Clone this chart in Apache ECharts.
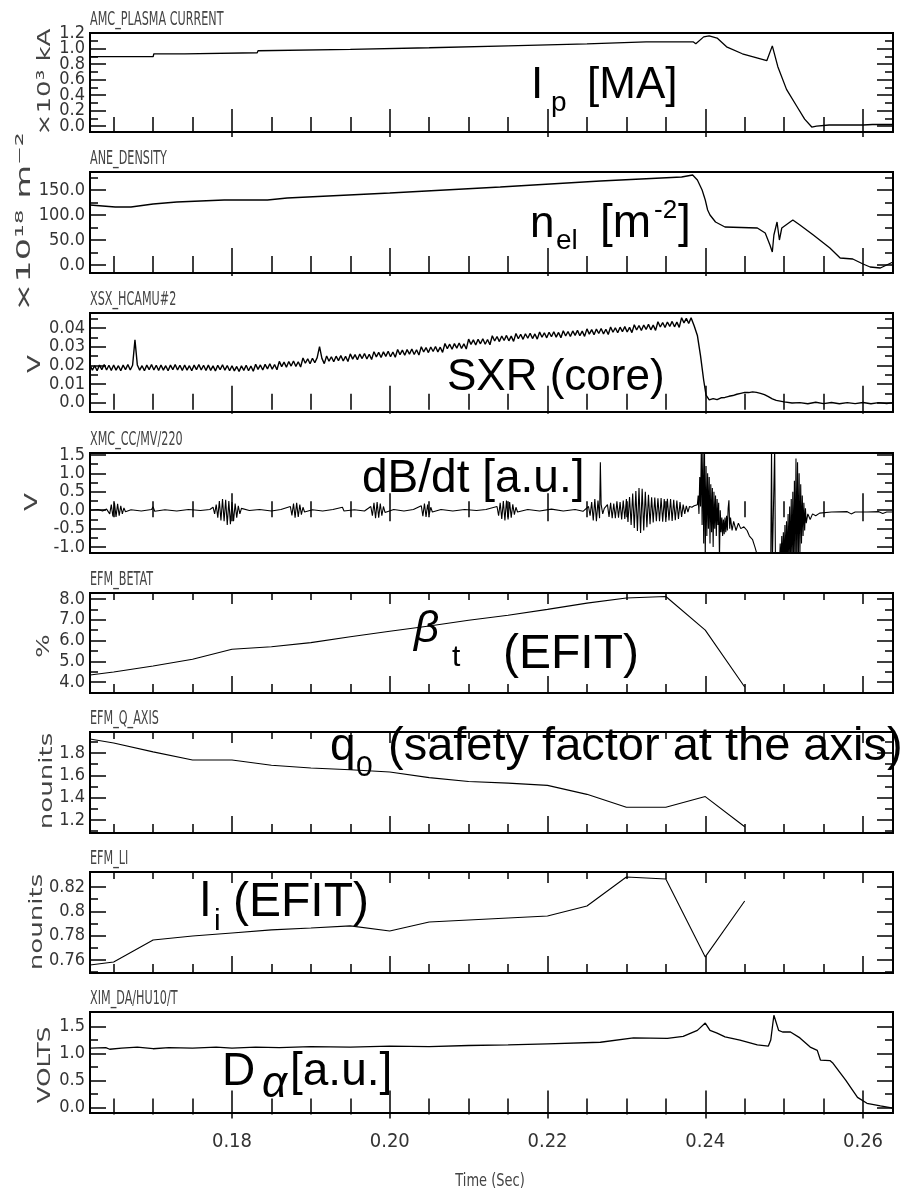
<!DOCTYPE html>
<html>
<head>
<meta charset="utf-8">
<script src="https://cdn.jsdelivr.net/npm/echarts@6.0.0/dist/echarts.min.js"></script>
<style>
html, body { margin: 0; padding: 0; background: #fff; }
#main { width: 908px; height: 1197px; }
</style>
</head>
<body>
<div id="main"></div>
<script>
// time axis
var tMin = 0.162, tMax = 0.2638;
var xMajor = [0.18, 0.20, 0.22, 0.24, 0.26];
var xLabels = ['0.18', '0.20', '0.22', '0.24', '0.26'];
var xMinor = [0.165, 0.17, 0.175, 0.185, 0.19, 0.195, 0.205, 0.21, 0.215, 0.225, 0.23, 0.235, 0.245, 0.25, 0.255];

var titles = ['AMC_PLASMA CURRENT', 'ANE_DENSITY', 'XSX_HCAMU#2', 'XMC_CC/MV/220', 'EFM_BETAT', 'EFM_Q_AXIS', 'EFM_LI', 'XIM_DA/HU10/T'];

// y ticks per panel
var ipTicks = [0, 0.2, 0.4, 0.6, 0.8, 1.0, 1.2];
var ipLabels = ['0.0', '0.2', '0.4', '0.6', '0.8', '1.0', '1.2'];
var ipMinor = [0.1, 0.3, 0.5, 0.7, 0.9, 1.1];
var neTicks = [0, 50, 100, 150];
var neLabels = ['0.0', '50.0', '100.0', '150.0'];
var neMinor = [25, 75, 125, 175];
var sxrTicks = [0, 0.01, 0.02, 0.03, 0.04];
var sxrLabels = ['0.0', '0.01', '0.02', '0.03', '0.04'];
var sxrMinor = [0.005, 0.015, 0.025, 0.035, 0.045];
var dbTicks = [-1.0, -0.5, 0, 0.5, 1.0, 1.5];
var dbLabels = ['-1.0', '-0.5', '0.0', '0.5', '1.0', '1.5'];
var dbMinor = [-0.75, -0.25, 0.25, 0.75, 1.25];
var btTicks = [4, 5, 6, 7, 8];
var btLabels = ['4.0', '5.0', '6.0', '7.0', '8.0'];
var btMinor = [3.5, 4.5, 5.5, 6.5, 7.5];
var q0Ticks = [1.2, 1.4, 1.6, 1.8];
var q0Labels = ['1.2', '1.4', '1.6', '1.8'];
var q0Minor = [1.1, 1.3, 1.5, 1.7, 1.9];
var liTicks = [0.76, 0.78, 0.80, 0.82];
var liLabels = ['0.76', '0.78', '0.8', '0.82'];
var liMinor = [0.75, 0.77, 0.79, 0.81];
var daTicks = [0, 0.5, 1.0, 1.5];
var daLabels = ['0.0', '0.5', '1.0', '1.5'];
var daMinor = [0.25, 0.75, 1.25];

// plasma current (x10^3 kA)
var ipData = [[0.1620,0.894],[0.1700,0.894],[0.1701,0.932],[0.1740,0.932],[0.1741,0.945],[0.1832,0.945],[0.1833,0.971],
  [0.1950,0.990],[0.2050,1.010],[0.2150,1.035],[0.2250,1.060],[0.2325,1.085],[0.2385,1.085],[0.2388,1.060],[0.2398,1.150],
  [0.2405,1.162],[0.2415,1.135],[0.2427,1.022],[0.2447,0.932],[0.2478,0.843],[0.2485,1.034],[0.2492,0.766],[0.2503,0.473],
  [0.2516,0.255],[0.2526,0.089],[0.2535,-0.013],[0.2541,0.000],[0.2557,0.013],[0.2600,0.013],[0.2612,0.020],[0.2638,0.020]];

// line density (x10^18 m^-2)
var neData = [[0.1620,120],[0.1652,116],[0.1672,116],[0.1700,122],[0.1730,126],[0.1790,130],[0.1845,130],[0.1870,134],
  [0.2000,144],[0.2140,156],[0.2267,168],[0.2370,176],[0.2384,180],[0.2390,170],[0.2396,150],[0.2400,130],[0.2403,110],
  [0.2406,100],[0.2413,86],[0.2425,76],[0.2466,74],[0.2476,64],[0.2482,40],[0.2485,26],[0.2487,60],[0.2491,86],[0.2494,50],
  [0.2497,74],[0.2511,90],[0.2520,80],[0.2537,60],[0.2558,34],[0.2571,14],[0.2587,12],[0.2600,2],[0.2609,-4],[0.2622,-6],[0.2638,6]];

// soft x-ray core chord (V)
var sxrData = [
  [0.1620,0.0202],[0.1623,0.0174],[0.1626,0.0198],[0.1629,0.0171],[0.1632,0.0201],[0.1635,0.0177],[0.1638,0.0204],[0.1641,0.0175],[0.1644,0.0200],[0.1647,0.0172],
  [0.1650,0.0202],[0.1653,0.0174],[0.1656,0.0198],[0.1659,0.0171],[0.1662,0.0201],[0.1665,0.0177],[0.1668,0.0204],[0.1671,0.0175],[0.1674,0.0200],[0.1677,0.0336],
  [0.1680,0.0202],[0.1683,0.0174],[0.1686,0.0198],[0.1689,0.0171],[0.1692,0.0201],[0.1695,0.0177],[0.1698,0.0204],[0.1701,0.0175],[0.1704,0.0200],[0.1707,0.0172],
  [0.1710,0.0202],[0.1713,0.0174],[0.1716,0.0198],[0.1719,0.0171],[0.1722,0.0201],[0.1725,0.0177],[0.1728,0.0204],[0.1731,0.0175],[0.1734,0.0200],[0.1737,0.0172],
  [0.1740,0.0202],[0.1743,0.0174],[0.1746,0.0198],[0.1749,0.0171],[0.1752,0.0201],[0.1755,0.0177],[0.1758,0.0204],[0.1761,0.0175],[0.1764,0.0200],[0.1767,0.0172],
  [0.1770,0.0201],[0.1773,0.0173],[0.1776,0.0197],[0.1779,0.0170],[0.1782,0.0200],[0.1785,0.0176],[0.1788,0.0203],[0.1791,0.0174],[0.1794,0.0199],[0.1797,0.0171],
  [0.1800,0.0198],[0.1803,0.0170],[0.1806,0.0194],[0.1809,0.0167],[0.1812,0.0197],[0.1815,0.0173],[0.1818,0.0200],[0.1821,0.0171],[0.1824,0.0196],[0.1827,0.0168],
  [0.1830,0.0206],[0.1833,0.0178],[0.1836,0.0202],[0.1839,0.0175],[0.1842,0.0205],[0.1845,0.0181],[0.1848,0.0208],[0.1851,0.0179],[0.1854,0.0204],[0.1857,0.0176],
  [0.1860,0.0221],[0.1863,0.0193],[0.1866,0.0217],[0.1869,0.0190],[0.1872,0.0220],[0.1875,0.0196],[0.1878,0.0223],[0.1881,0.0194],[0.1884,0.0219],[0.1887,0.0191],
  [0.1890,0.0239],[0.1893,0.0211],[0.1896,0.0235],[0.1899,0.0208],[0.1902,0.0238],[0.1905,0.0214],[0.1908,0.0241],[0.1911,0.0300],[0.1914,0.0237],[0.1917,0.0209],
  [0.1920,0.0250],[0.1923,0.0222],[0.1926,0.0246],[0.1929,0.0219],[0.1932,0.0249],[0.1935,0.0225],[0.1938,0.0252],[0.1941,0.0223],[0.1944,0.0248],[0.1947,0.0220],
  [0.1950,0.0261],[0.1953,0.0233],[0.1956,0.0257],[0.1959,0.0230],[0.1962,0.0260],[0.1965,0.0236],[0.1968,0.0263],[0.1971,0.0234],[0.1974,0.0259],[0.1977,0.0231],
  [0.1980,0.0273],[0.1983,0.0245],[0.1986,0.0269],[0.1989,0.0242],[0.1992,0.0272],[0.1995,0.0248],[0.1998,0.0275],[0.2001,0.0246],[0.2004,0.0271],[0.2007,0.0243],
  [0.2010,0.0285],[0.2013,0.0257],[0.2016,0.0281],[0.2019,0.0254],[0.2022,0.0284],[0.2025,0.0260],[0.2028,0.0287],[0.2031,0.0258],[0.2034,0.0283],[0.2037,0.0255],
  [0.2040,0.0299],[0.2043,0.0271],[0.2046,0.0295],[0.2049,0.0268],[0.2052,0.0298],[0.2055,0.0274],[0.2058,0.0301],[0.2061,0.0272],[0.2064,0.0297],[0.2067,0.0269],
  [0.2070,0.0317],[0.2073,0.0289],[0.2076,0.0313],[0.2079,0.0286],[0.2082,0.0316],[0.2085,0.0292],[0.2088,0.0319],[0.2091,0.0290],[0.2094,0.0315],[0.2097,0.0287],
  [0.2100,0.0340],[0.2103,0.0312],[0.2106,0.0336],[0.2109,0.0309],[0.2112,0.0339],[0.2115,0.0315],[0.2118,0.0342],[0.2121,0.0313],[0.2124,0.0338],[0.2127,0.0310],
  [0.2130,0.0358],[0.2133,0.0330],[0.2136,0.0354],[0.2139,0.0327],[0.2142,0.0357],[0.2145,0.0333],[0.2148,0.0360],[0.2151,0.0331],[0.2154,0.0356],[0.2157,0.0328],
  [0.2160,0.0370],[0.2163,0.0342],[0.2166,0.0366],[0.2169,0.0339],[0.2172,0.0369],[0.2175,0.0345],[0.2178,0.0372],[0.2181,0.0343],[0.2184,0.0368],[0.2187,0.0340],
  [0.2190,0.0378],[0.2193,0.0350],[0.2196,0.0374],[0.2199,0.0347],[0.2202,0.0377],[0.2205,0.0353],[0.2208,0.0380],[0.2211,0.0351],[0.2214,0.0376],[0.2217,0.0348],
  [0.2220,0.0385],[0.2223,0.0357],[0.2226,0.0381],[0.2229,0.0354],[0.2232,0.0384],[0.2235,0.0360],[0.2238,0.0387],[0.2241,0.0358],[0.2244,0.0383],[0.2247,0.0355],
  [0.2250,0.0395],[0.2253,0.0367],[0.2256,0.0391],[0.2259,0.0364],[0.2262,0.0394],[0.2265,0.0370],[0.2268,0.0397],[0.2271,0.0368],[0.2274,0.0393],[0.2277,0.0365],
  [0.2280,0.0405],[0.2283,0.0377],[0.2286,0.0401],[0.2289,0.0374],[0.2292,0.0404],[0.2295,0.0380],[0.2298,0.0407],[0.2301,0.0378],[0.2304,0.0403],[0.2307,0.0375],
  [0.2310,0.0417],[0.2313,0.0389],[0.2316,0.0413],[0.2319,0.0386],[0.2322,0.0416],[0.2325,0.0392],[0.2328,0.0419],[0.2331,0.0390],[0.2334,0.0415],[0.2337,0.0387],
  [0.2340,0.0433],[0.2343,0.0405],[0.2346,0.0429],[0.2349,0.0402],[0.2352,0.0432],[0.2355,0.0408],[0.2358,0.0435],[0.2361,0.0406],[0.2364,0.0431],[0.2367,0.0403],
  [0.2370,0.0455],[0.2373,0.0427],[0.2376,0.0451],[0.2379,0.0424],[0.2382,0.0454],
  [0.2386,0.0410],[0.2390,0.0360],[0.2394,0.0250],[0.2398,0.0120],[0.2401,0.0040],[0.2405,0.0015],[0.2410,0.0022],[0.2415,0.0016],
  [0.2420,0.0026],[0.2425,0.0028],[0.2430,0.0034],[0.2435,0.0038],[0.2440,0.0045],[0.2445,0.0050],[0.2450,0.0055],[0.2455,0.0054],
  [0.2460,0.0058],[0.2465,0.0055],[0.2470,0.0050],[0.2475,0.0043],[0.2480,0.0032],[0.2485,0.0020],[0.2490,0.0012],[0.2500,0.0004],
  [0.2510,-0.0002],[0.2520,0.0000],[0.2530,-0.0006],[0.2540,0.0002],[0.2550,-0.0005],[0.2560,0.0001],[0.2570,-0.0006],[0.2580,0.0000],
  [0.2590,-0.0005],[0.2600,0.0001],[0.2610,-0.0006],[0.2620,0.0000],[0.2630,-0.0005],[0.2638,0.0000]];

// Mirnov coil dB/dt (V)
var dbdtData = [[0.1620,0.00],[0.1630,0.02],[0.1636,-0.02],[0.1641,0.03],
  [0.1643,0.08],[0.1645,-0.10],[0.1647,0.15],[0.1649,-0.17],[0.1651,0.20],[0.1653,-0.18],[0.1655,0.17],[0.1657,-0.15],[0.1659,0.12],
  [0.1661,-0.10],[0.1663,0.06],[0.1665,-0.04],[0.1672,0.01],[0.1685,-0.02],[0.1698,0.02],[0.1700,0.09],[0.1702,-0.03],[0.1715,0.01],
  [0.1730,-0.02],[0.1745,0.02],[0.1760,-0.01],[0.1772,0.02],
  [0.1776,0.08],[0.1778,-0.10],[0.1780,0.15],[0.1782,-0.20],[0.1784,0.25],[0.1786,-0.28],[0.1788,0.30],[0.1790,-0.30],[0.1792,0.28],
  [0.1794,-0.40],[0.1796,0.25],[0.1798,-0.38],[0.1800,0.22],[0.1802,-0.30],[0.1804,0.18],[0.1806,-0.20],[0.1808,0.12],[0.1810,-0.10],
  [0.1812,0.05],[0.1822,-0.01],[0.1835,0.02],[0.1850,-0.02],[0.1862,0.02],
  [0.1874,0.10],[0.1876,-0.14],[0.1878,0.18],[0.1880,-0.20],[0.1882,0.20],[0.1884,-0.18],[0.1886,0.15],[0.1888,-0.12],[0.1890,0.08],
  [0.1892,-0.05],[0.1902,0.01],[0.1915,-0.02],[0.1928,0.02],[0.1940,0.08],[0.1942,-0.02],[0.1955,0.01],[0.1968,-0.02],
  [0.1976,0.10],[0.1978,-0.15],[0.1980,0.20],[0.1982,-0.22],[0.1984,0.22],[0.1986,-0.20],[0.1988,0.18],[0.1990,-0.15],[0.1992,0.10],
  [0.1994,-0.06],[0.2005,0.02],[0.2018,-0.02],[0.2030,0.02],
  [0.2040,0.12],[0.2042,-0.16],[0.2044,0.18],[0.2046,-0.18],[0.2048,0.15],[0.2050,-0.12],[0.2052,0.08],[0.2054,-0.05],
  [0.2065,0.02],[0.2080,-0.02],[0.2095,0.02],[0.2110,-0.01],[0.2122,0.02],
  [0.2136,0.10],[0.2138,-0.15],[0.2140,0.20],[0.2142,-0.24],[0.2144,0.25],[0.2146,-0.28],[0.2148,0.26],[0.2150,-0.25],[0.2152,0.22],
  [0.2154,-0.20],[0.2156,0.16],[0.2158,-0.12],[0.2160,0.08],[0.2162,-0.05],
  [0.2175,0.02],[0.2190,-0.02],[0.2205,0.03],[0.2220,-0.02],[0.2235,0.02],[0.2245,-0.03],
  [0.2252,0.10],[0.2254,-0.15],[0.2256,0.22],[0.2258,-0.28],[0.2260,0.30],[0.2262,-0.30],[0.2264,0.26],[0.2266,-0.22],[0.2267,1.30],
  [0.2268,0.16],[0.2270,-0.10],[0.2272,0.05],
  [0.2276,0.15],[0.2278,-0.18],[0.2280,0.20],[0.2282,-0.22],[0.2284,0.18],[0.2286,-0.22],[0.2288,0.24],[0.2290,-0.20],[0.2292,0.22],
  [0.2294,-0.25],[0.2296,0.26],[0.2298,-0.24],[0.2300,0.30],[0.2302,-0.32],[0.2304,0.36],[0.2306,-0.40],[0.2308,0.45],[0.2310,-0.48],
  [0.2312,0.52],[0.2314,-0.56],[0.2316,0.60],[0.2318,-0.62],[0.2320,0.58],[0.2322,-0.55],[0.2324,0.50],[0.2326,-0.46],[0.2328,0.42],
  [0.2330,-0.38],[0.2332,0.35],[0.2334,-0.33],[0.2336,0.34],[0.2338,-0.30],[0.2340,0.32],[0.2342,-0.30],[0.2344,0.33],[0.2346,-0.31],
  [0.2348,0.30],[0.2350,-0.32],[0.2352,0.31],[0.2354,-0.28],[0.2356,0.30],[0.2358,-0.29],[0.2360,0.28],[0.2362,-0.27],[0.2364,0.26],
  [0.2366,-0.24],[0.2368,0.22],[0.2370,-0.18],[0.2372,0.15],[0.2374,-0.10],[0.2376,0.12],[0.2378,-0.05],[0.2380,0.10],[0.2383,0.08],
  [0.2386,0.12],[0.2388,0.10],
  [0.2390,0.15],[0.2391,0.40],[0.2392,-0.10],[0.2393,0.90],[0.2394,0.10],[0.2395,1.70],[0.2396,-0.40],[0.2397,1.70],[0.2398,-0.90],
  [0.2399,1.70],[0.2400,-1.30],[0.2401,1.20],[0.2402,-0.70],[0.2403,1.00],[0.2404,-0.50],[0.2405,0.90],[0.2406,-0.90],[0.2407,0.70],
  [0.2408,-0.60],[0.2409,0.60],[0.2410,-1.00],[0.2411,0.50],[0.2412,-0.50],[0.2413,0.40],[0.2414,-0.70],[0.2415,0.30],[0.2416,-0.40],
  [0.2417,0.20],[0.2418,-1.30],[0.2419,0.00],[0.2420,-0.60],[0.2421,-0.20],[0.2422,-0.70],[0.2423,-0.25],[0.2424,-0.65],[0.2425,-0.20],
  [0.2426,-0.60],[0.2427,-0.15],[0.2428,-0.55],[0.2429,0.05],[0.2430,0.27],[0.2431,-0.50],[0.2432,-0.20],[0.2434,-0.55],[0.2436,-0.30],
  [0.2439,-0.55],[0.2442,-0.35],[0.2445,-0.50],[0.2449,-0.45],[0.2453,-0.55],[0.2456,-0.70],[0.2460,-0.80],[0.2463,-1.00],[0.2467,-1.30],
  [0.2475,-1.50],[0.2483,-1.50],[0.2484,1.70],[0.2485,-1.50],[0.2487,-1.50],[0.2488,1.70],[0.2489,-1.50],
  [0.2494,-1.50],[0.2495,-0.90],[0.2496,-1.50],[0.2497,-0.70],[0.2498,-1.50],[0.2499,-0.60],[0.2500,-1.50],[0.2501,-0.40],[0.2502,-1.50],
  [0.2503,-0.30],[0.2504,-1.50],[0.2505,-0.10],[0.2506,-1.50],[0.2507,0.10],[0.2508,-1.50],[0.2509,0.30],[0.2510,-1.50],[0.2511,0.50],
  [0.2512,-1.50],[0.2513,0.80],[0.2514,-1.50],[0.2515,1.40],[0.2516,-1.50],[0.2517,1.30],[0.2518,-1.40],[0.2519,1.00],[0.2520,-1.20],
  [0.2521,0.70],[0.2522,-0.90],[0.2523,0.40],[0.2524,-0.70],[0.2525,0.20],[0.2526,-0.55],[0.2527,0.05],[0.2528,-0.35],[0.2530,-0.10],
  [0.2533,-0.25],[0.2536,-0.10],[0.2540,-0.15],[0.2545,-0.08],[0.2560,-0.05],[0.2580,-0.04],[0.2585,-0.10],[0.2590,-0.05],[0.2605,-0.05],
  [0.2620,-0.04],[0.2625,-0.09],[0.2630,-0.05],[0.2638,-0.05]];

// EFIT time slices
var efitT = [0.162, 0.165, 0.170, 0.175, 0.180, 0.185, 0.190, 0.195, 0.200, 0.205, 0.210, 0.215, 0.220, 0.225, 0.230, 0.235, 0.240, 0.245];
var betaT = [4.34, 4.48, 4.77, 5.10, 5.58, 5.70, 5.90, 6.18, 6.45, 6.70, 6.98, 7.22, 7.50, 7.80, 8.05, 8.12, 6.50, 3.76];
var qAxis = [1.925, 1.89, 1.81, 1.737, 1.737, 1.69, 1.666, 1.65, 1.63, 1.58, 1.545, 1.53, 1.51, 1.43, 1.315, 1.315, 1.41, 1.14];
var liInt = [0.7559, 0.7584, 0.7764, 0.7797, 0.7822, 0.7847, 0.7863, 0.788, 0.7838, 0.7912, 0.7929, 0.7945, 0.7962, 0.8044, 0.8282, 0.8266, 0.7625, 0.8085];

// D-alpha (VOLTS)
var daData = [[0.1620,1.10],[0.1640,1.11],[0.1645,1.08],[0.1660,1.10],[0.1680,1.12],[0.1700,1.09],[0.1720,1.11],[0.1750,1.10],
  [0.1780,1.12],[0.1800,1.10],[0.1830,1.12],[0.1860,1.11],[0.1900,1.13],[0.1950,1.12],[0.2000,1.14],[0.2050,1.13],[0.2100,1.15],
  [0.2150,1.16],[0.2200,1.18],[0.2267,1.21],[0.2309,1.29],[0.2352,1.28],[0.2372,1.32],[0.2390,1.43],[0.2400,1.565],[0.2406,1.43],
  [0.2415,1.38],[0.2425,1.31],[0.2444,1.25],[0.2466,1.16],[0.2480,1.14],[0.2483,1.25],[0.2487,1.71],[0.2493,1.43],[0.2498,1.40],
  [0.2508,1.40],[0.2520,1.29],[0.2533,1.12],[0.2542,1.06],[0.2546,0.88],[0.2558,0.87],[0.2562,0.82],[0.2578,0.51],[0.2593,0.19],
  [0.2605,0.08],[0.2622,0.03],[0.2638,-0.01]];

function zip(t, v) {
  var out = [];
  for (var i = 0; i < t.length; i++) out.push([t[i], v[i]]);
  return out;
}

// layout
var tops = [33, 172, 313, 453, 593, 732, 872, 1012];
var heights = [99, 101, 99, 100, 100, 101, 101, 101];
var yMins = [-0.077, -16, -0.005, -1.16, 3.47, 1.084, 0.7493, -0.10];
var yMaxs = [1.2, 186, 0.048, 1.55, 8.29, 1.988, 0.8323, 1.77];
var yMajor = [ipTicks, neTicks, sxrTicks, dbTicks, btTicks, q0Ticks, liTicks, daTicks];
var yLab = [ipLabels, neLabels, sxrLabels, dbLabels, btLabels, q0Labels, liLabels, daLabels];
var yMinorAll = [ipMinor, neMinor, sxrMinor, dbMinor, btMinor, q0Minor, liMinor, daMinor];
var seriesData = [ipData, neData, sxrData, dbdtData, zip(efitT, betaT), zip(efitT, qAxis), zip(efitT, liInt), daData];
var lineW = [1.3, 1.3, 1.4, 1.1, 1.1, 1.1, 1.1, 1.3];

var narrow = "'Liberation Sans Narrow','DejaVu Sans Condensed','DejaVu Sans',sans-serif";

function lookup(vals, labels) {
  return function (v) {
    for (var k = 0; k < vals.length; k++) {
      if (Math.abs(vals[k] - v) < 1e-7) return labels[k];
    }
    return '';
  };
}

function everyOther(arr, start) {
  return arr.filter(function (v, k) { return k % 2 === start; });
}

function mkX(i, pos, ticks, len, withLabels) {
  return {
    type: 'value', gridIndex: i, position: pos, min: tMin, max: tMax,
    axisLine: { show: false }, splitLine: { show: false },
    axisTick: { show: true, inside: true, length: len, customValues: ticks, lineStyle: { color: '#000', width: 1.5 } },
    axisLabel: {
      show: withLabels, customValues: ticks, margin: 19, color: '#333', fontSize: 20,
      fontFamily: narrow, hideOverlap: false, showMinLabel: true, showMaxLabel: true,
      formatter: lookup(xMajor, xLabels)
    }
  };
}

// left/right y axis; labelVals: values that get a label on this axis (null = none)
function mkY(i, pos, ticks, len, labelVals) {
  return {
    type: 'value', gridIndex: i, position: pos, min: yMins[i], max: yMaxs[i],
    axisLine: { show: false }, splitLine: { show: false },
    axisTick: { show: len > 0, inside: true, length: len, customValues: ticks, lineStyle: { color: '#000', width: 1.5 } },
    axisLabel: {
      show: !!labelVals, customValues: labelVals || ticks, margin: 5, color: '#333', fontSize: 18,
      fontFamily: narrow, hideOverlap: false, showMinLabel: true, showMaxLabel: true,
      formatter: lookup(yMajor[i], yLab[i])
    }
  };
}

var grids = [], xAxes = [], yAxes = [], series = [], graphics = [];
for (var i = 0; i < 8; i++) {
  grids.push({ left: 90, right: 15, top: tops[i], height: heights[i], show: true, borderColor: '#000', borderWidth: 2 });
  xAxes.push(mkX(i, 'bottom', xMajor, 17, i === 7));
  xAxes.push(mkX(i, 'bottom', xMinor, 9, false));
  xAxes.push(mkX(i, 'top', xMajor, 11, false));
  xAxes.push(mkX(i, 'top', xMinor, 7, false));
  // labels split over two axes so that crowded labels are all drawn
  yAxes.push(mkY(i, 'left', yMajor[i], 16, everyOther(yMajor[i], 0)));
  yAxes.push(mkY(i, 'left', yMinorAll[i], 8, null));
  yAxes.push(mkY(i, 'right', yMajor[i], 16, null));
  yAxes.push(mkY(i, 'right', yMinorAll[i], 8, null));
  yAxes.push(mkY(i, 'left', yMajor[i], 0, everyOther(yMajor[i], 1)));
  series.push({
    type: 'line', xAxisIndex: i * 4, yAxisIndex: i * 5, data: seriesData[i],
    showSymbol: false, symbol: 'none', clip: true, silent: true,
    lineStyle: { color: '#000', width: lineW[i] }
  });
  // panel title
  graphics.push({
    type: 'text', x: 90, y: tops[i] - 13, scaleX: 0.56,
    style: { text: titles[i], fontSize: 20, fontFamily: 'DejaVu Sans', fill: '#444', align: 'left', verticalAlign: 'middle' }
  });
}

// rotated axis names
var yNames = [
  { t: '×10³ kA', x: 45, y: 82, s: 18, k: 1.45 },
  { t: '×10¹⁸ m⁻²', x: 25, y: 222, s: 20, k: 1.75 },
  { t: 'V', x: 35, y: 364, s: 18, k: 1.45 },
  { t: 'V', x: 32, y: 502, s: 18, k: 1.45 },
  { t: '%', x: 45, y: 646, s: 17, k: 1.45 },
  { t: 'nounits', x: 47, y: 781, s: 18, k: 1.45 },
  { t: 'nounits', x: 37, y: 922, s: 18, k: 1.45 },
  { t: 'VOLTS', x: 46, y: 1065, s: 17, k: 1.44 }
];
yNames.forEach(function (n) {
  graphics.push({
    type: 'text', x: n.x, y: n.y, rotation: Math.PI / 2, scaleX: n.k,
    style: { text: n.t, fontSize: n.s, fontFamily: 'DejaVu Sans', fill: '#444', align: 'center', verticalAlign: 'middle' }
  });
});
graphics.push({
  type: 'text', x: 490, y: 1181, scaleY: 1.35,
  style: { text: 'Time (Sec)', fontSize: 13, fontFamily: 'DejaVu Sans', fill: '#444', align: 'center', verticalAlign: 'middle' }
});

// big annotations: [text, x, baseline, size, italic]
var notes = [
  ['I', 531, 101, 44, false], ['p', 551, 113, 28, false], ['[MA]', 587, 101, 44, false],
  ['n', 530, 240, 44, false], ['el', 556, 251, 28, false], ['[m', 600, 240, 46, false], ['-2', 654, 220, 26, false], [']', 678, 240, 46, false],
  ['SXR (core)', 447, 393, 44, false],
  ['dB/dt [a.u.]', 362, 495, 46, false],
  ['β', 414, 645, 44, true], ['t', 452, 668, 30, false], ['(EFIT)', 503, 672, 48, false],
  ['q', 330, 763, 46, false], ['0', 356, 778, 30, false], ['(safety factor at the axis)', 388, 763, 47, false],
  ['l', 200, 920, 48, false], ['i', 214, 932, 30, false], ['(EFIT)', 233, 920, 48, false],
  ['D', 222, 1088, 46, false], ['α', 262, 1100, 44, true], ['[a.u.]', 290, 1088, 46, false]
];
notes.forEach(function (n) {
  graphics.push({
    type: 'text', x: n[1], y: n[2] - 0.85 * n[3],
    style: {
      text: n[0], fontSize: n[3], fontFamily: "'Liberation Sans', Arial, sans-serif",
      fontStyle: n[4] ? 'italic' : 'normal', fill: '#000', align: 'left', verticalAlign: 'top'
    }
  });
});

var chart = echarts.init(document.getElementById('main'));
chart.setOption({
  animation: false,
  backgroundColor: '#fff',
  grid: grids,
  xAxis: xAxes,
  yAxis: yAxes,
  series: series,
  graphic: graphics
});
</script>
</body>
</html>
